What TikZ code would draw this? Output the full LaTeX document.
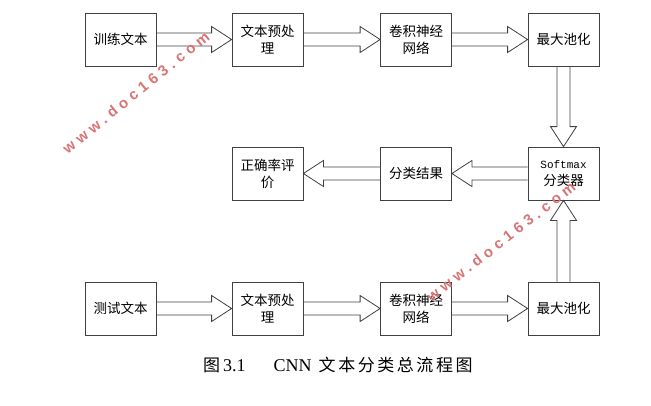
\documentclass[tikz,border=0pt]{standalone}
\usepackage{fontspec}
\setmainfont{Liberation Serif}
\setmonofont{Liberation Mono}
\newfontfamily\cjk{Noto Sans CJK SC}
\newfontfamily\capcjk[LetterSpace=15]{Noto Sans CJK SC}
\newfontfamily\wmfont[LetterSpace=30]{Liberation Sans}
\usetikzlibrary{calc,positioning}
\definecolor{wmred}{HTML}{D87474}
\definecolor{linegray}{HTML}{404040}

% hollow block arrow from #1 to the tip #2
\newcommand{\fatarrow}[2]{%
  \coordinate (fa-b) at ($(#2)!20pt!(#1)$);
  \draw[fat] ($(#1)!6.5pt!90:(#2)$) -- ($(fa-b)!6.5pt!90:(#2)$)
    -- ($(fa-b)!13pt!90:(#2)$) -- (#2) -- ($(fa-b)!13pt!-90:(#2)$)
    -- ($(fa-b)!6.5pt!-90:(#2)$) -- ($(#1)!6.5pt!-90:(#2)$);}

\begin{document}
\begin{tikzpicture}[x=1pt,y=-1pt,
  box/.style={draw=linegray, line width=0.8pt, minimum width=71pt,
              minimum height=53pt, inner sep=2pt, align=center,
              font=\cjk\fontsize{13.5}{17}\selectfont},
  fat/.style={draw=linegray, line width=0.8pt, line join=miter},
  wm/.style={text=wmred, font=\wmfont\bfseries\fontsize{15}{15}\selectfont},
  captext/.style={font=\fontsize{18}{20}\selectfont}
]
  \useasboundingbox (0,0) rectangle (651,405);

  % training branch
  \node[box] (train) at (120.5,39.5) {训练文本};
  \node[box] (pre1)  at (267.5,39.5) {文本预处\\理};
  \node[box] (cnn1)  at (416,39.5)   {卷积神经\\网络};
  \node[box] (pool1) at (563.5,39.5) {最大池化};

  % classifier row
  \node[box] (soft)  at (563.5,173.5) {{\ttfamily\fontsize{11}{17}\selectfont Softmax}\\分类器};
  \node[box] (res)   at (416,173.5)   {分类结果};
  \node[box] (acc)   at (267.5,173.5) {正确率评\\价};

  % test branch
  \node[box] (test)  at (120.5,308.5) {测试文本};
  \node[box] (pre2)  at (267.5,308.5) {文本预处\\理};
  \node[box] (cnn2)  at (416,308.5)   {卷积神经\\网络};
  \node[box] (pool2) at (563.5,308.5) {最大池化};

  \fatarrow{train.east}{pre1.west}
  \fatarrow{pre1.east}{cnn1.west}
  \fatarrow{cnn1.east}{pool1.west}
  \fatarrow{pool1.south}{soft.north}
  \fatarrow{soft.west}{res.east}
  \fatarrow{res.west}{acc.east}
  \fatarrow{test.east}{pre2.west}
  \fatarrow{pre2.east}{cnn2.west}
  \fatarrow{cnn2.east}{pool2.west}
  \fatarrow{pool2.north}{soft.south}

  \node[captext, anchor=west, inner sep=0pt] (caption) at (203,365)
    {{\capcjk\fontsize{17}{20}\selectfont 图}\hspace{3pt}3.1\hspace{28pt}CNN\hspace{7pt}{\capcjk\fontsize{17}{20}\selectfont 文本分类总流程图}};

  % watermarks
  \node[wm, rotate=39] (wm1) at (136,92.5) {www.doc163.com};
  \node[wm, rotate=38] (wm2) at (501,241.5) {www.doc163.com};
\end{tikzpicture}
\end{document}
